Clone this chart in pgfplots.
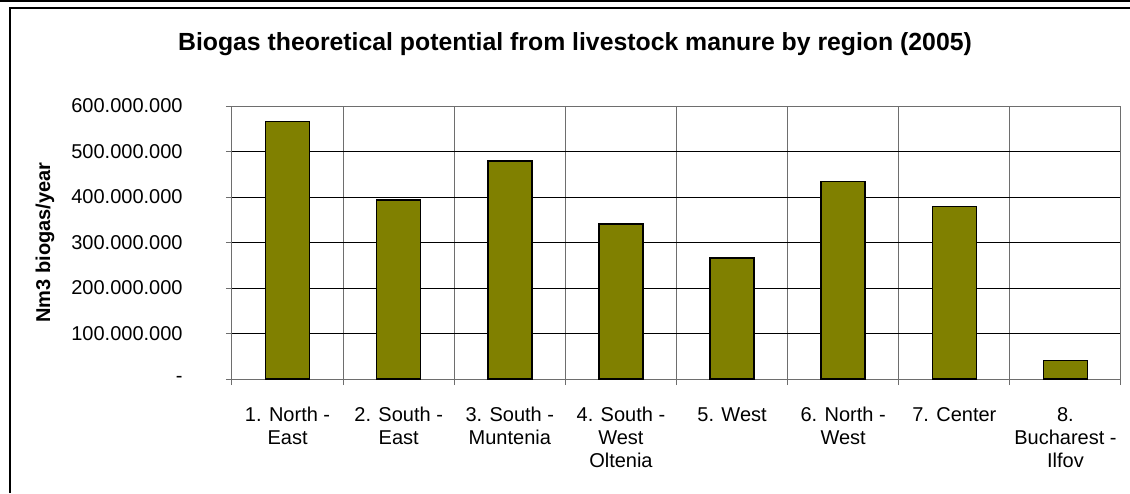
\documentclass[border=0pt]{standalone}
\usepackage{pgfplots}
\pgfplotsset{compat=1.18}
\usepackage{fontspec}
\setmainfont{Liberation Sans}
\definecolor{barolive}{RGB}{128,128,0}
\definecolor{gridgray}{RGB}{110,110,110}
\begin{document}
\begin{tikzpicture}
\useasboundingbox (-116pt,-57pt) rectangle (449pt,189.5pt);
\begin{axis}[
  at={(0,0)}, anchor=origin,
  scale only axis,
  width=444.5pt, height=136.5pt,
  xmin=0.5, xmax=8.5,
  ymin=0, ymax=600000000,
  ybar, bar width=22pt, bar shift=0pt,
  xtick={1,...,8},
  xticklabels={{1. North -\\East},{2. South -\\East},{3. South -\\Muntenia},{4. South -\\West\\Oltenia},{5. West},{6. North -\\West},{7. Center},{8.\\Bucharest -\\Ilfov}},
  minor xtick={0.5,1.5,...,8.5},
  major x tick style={draw=none},
  minor x tick style={gridgray, line width=0.5pt},
  minor tick length=3pt,
  xminorgrids=true,
  minor x grid style={gridgray, line width=0.5pt},
  ytick={0,100000000,200000000,300000000,400000000,500000000,600000000},
  yticklabels={{-\hspace{12pt}},100.000.000,200.000.000,300.000.000,400.000.000,500.000.000,600.000.000},
  ymajorgrids=true,
  major y grid style={black, line width=0.5pt},
  major tick length=3pt,
  tick align=outside,
  tick pos=left,
  axis line style={gridgray, line width=0.5pt},
  ytick style={gridgray, line width=0.5pt},
  xticklabel style={align=center, anchor=north, inner sep=0pt, yshift=-11pt, font=\fontsize{10}{11.5}\selectfont},
  yticklabel style={anchor=east, inner sep=0pt, xshift=-21.5pt, font=\fontsize{10}{12}\selectfont},
  scaled y ticks=false,
  clip=false,
]
\addplot[fill=barolive, draw=black, line width=0.7pt] coordinates {
  (1,566000000) (2,393000000) (3,479000000) (4,341000000)
  (5,266000000) (6,434000000) (7,379000000) (8,41000000)
};
\end{axis}
\node[anchor=base, font=\bfseries\fontsize{12.4}{14}\selectfont] at (171.5pt,164pt) {Biogas theoretical potential from livestock manure by region (2005)};
\node[rotate=90, anchor=center, font=\bfseries\fontsize{10}{12}\selectfont] at (-93.5pt,68.25pt) {Nm3 biogas/year};
\draw[line width=1pt] (-111pt,-57pt) -- (-111pt,185.5pt) -- (449pt,185.5pt);
\draw[line width=1pt] (-116pt,189pt) -- (449pt,189pt);
\end{tikzpicture}
\end{document}
